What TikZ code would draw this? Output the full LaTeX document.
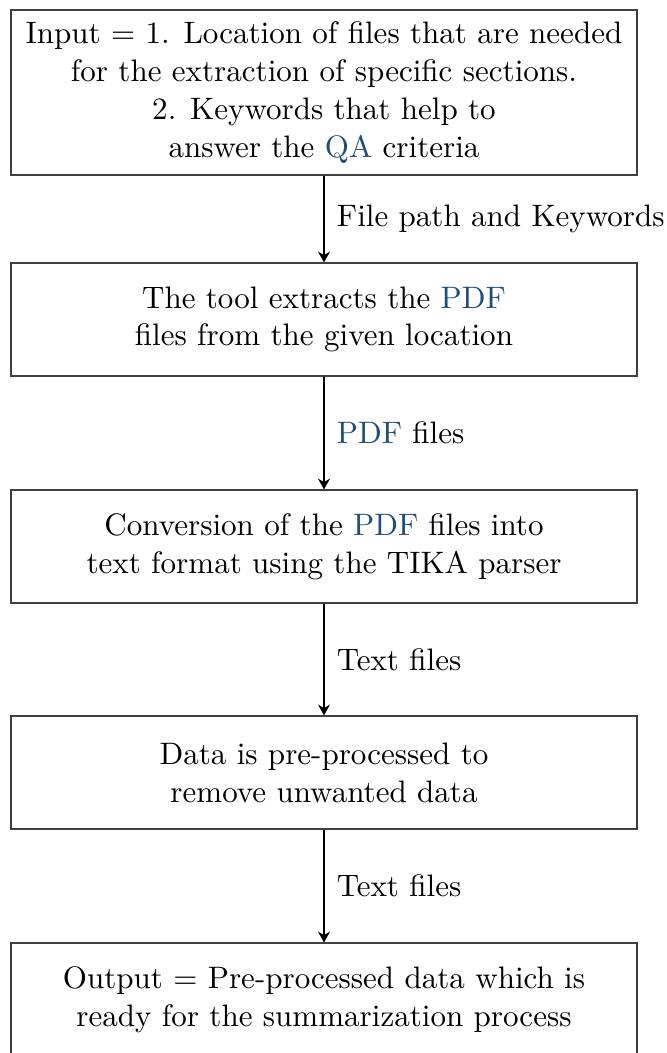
\documentclass[tikz,border=0pt]{standalone}
\usetikzlibrary{arrows.meta}
\definecolor{acrblue}{RGB}{31,78,121}
\newcommand{\acr}[1]{\textcolor{acrblue}{#1}}
\begin{document}
\begin{tikzpicture}[x=1pt,y=1pt,
  every node/.style={font=\fontsize{10.35}{12.6}\selectfont},
  procbox/.style={draw=black!75, line width=0.4pt, minimum width=208.7pt,
    align=center, inner sep=0pt},
  flow/.style={-{Stealth[length=3.6pt,width=4pt]}, line width=0.65pt, black},
  flowlabel/.style={right, midway, inner sep=4pt}]
  \useasboundingbox (0,0) rectangle (222.33,-351);
  \node[procbox, minimum height=55pt] (in) at (108,-30.83)
    {Input = 1. Location of files that are needed\\
     for the extraction of specific sections.\\
     2. Keywords that help to\\
     answer the \acr{QA} criteria};
  \node[procbox, minimum height=37.67pt] (ext) at (108,-106.5)
    {The tool extracts the \acr{PDF}\\files from the given location};
  \node[procbox, minimum height=37.67pt] (conv) at (108,-182.17)
    {Conversion of the \acr{PDF} files into\\text format using the TIKA parser};
  \node[procbox, minimum height=37.67pt] (pre) at (108,-257.5)
    {Data is pre-processed to\\remove unwanted data};
  \node[procbox, minimum height=37.67pt] (out) at (108,-333.17)
    {Output = Pre-processed data which is\\ready for the summarization process};
  \draw[flow] (in) -- node[flowlabel] {File path and Keywords} (ext);
  \draw[flow] (ext) -- node[flowlabel] {\acr{PDF} files} (conv);
  \draw[flow] (conv) -- node[flowlabel] {Text files} (pre);
  \draw[flow] (pre) -- node[flowlabel] {Text files} (out);
\end{tikzpicture}
\end{document}
